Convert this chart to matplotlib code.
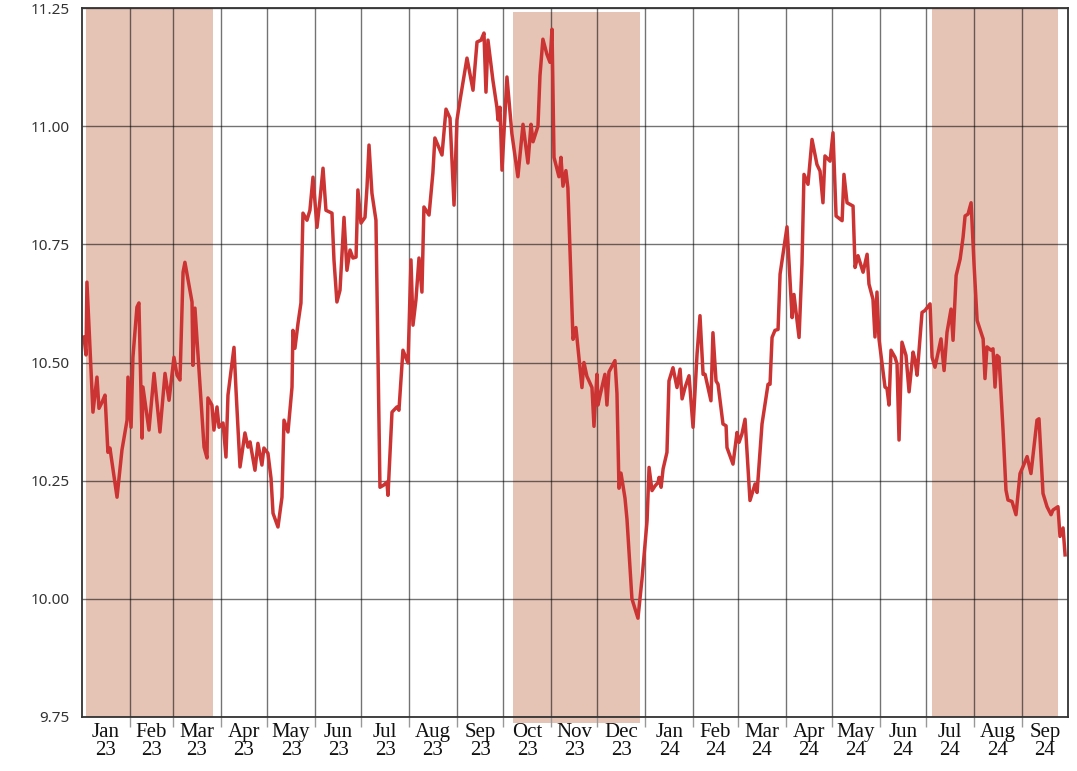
import numpy as np
import pandas as pd
import matplotlib
matplotlib.use("Agg")
import matplotlib.pyplot as plt
import matplotlib.dates as mdates
from matplotlib.ticker import FixedLocator, NullFormatter

# ---- data ----
start_date = "2023-01-01"
days_since_start = [
    1.3, 2.6, 3.2, 7.1, 9.7, 11.0, 13.0, 14.9, 16.8, 18.1, 22.7, 25.9, 29.2, 29.8,
    31.8, 33.0, 35.6, 36.9, 38.9, 39.5, 43.4, 46.7, 50.5, 53.8, 56.4, 59.6, 61.6,
    63.5, 65.5, 66.7, 71.3, 71.9, 73.2, 79.1, 81.0, 81.6, 84.2, 85.5, 87.5, 88.8,
    91.4, 93.3, 94.6, 98.5, 99.8, 102.4, 105.6, 107.6, 108.9, 112.1, 114.0, 116.6,
    117.9, 120.5, 122.5, 123.8, 127.0, 129.6, 130.9, 133.5, 136.1, 136.7, 138.0,
    140.0, 141.9, 143.2, 145.8, 147.7, 149.7, 152.3, 154.2, 156.2, 158.1, 162.0,
    163.3, 165.2, 167.2, 169.8, 171.7, 173.7, 175.6, 177.6, 178.8, 180.8, 183.4,
    184.7, 186.0, 187.9, 190.5, 193.1, 195.7, 197.6, 198.3, 200.9, 204.1, 205.4,
    208.0, 211.3, 213.2, 214.5, 216.4, 218.4, 220.3, 221.6, 224.9, 227.4, 228.7,
    233.3, 235.9, 238.5, 241.1, 243.0, 245.0, 249.5, 253.4, 256.0, 258.6, 260.5,
    261.8, 263.1, 266.3, 268.9, 269.6, 270.9, 272.2, 275.4, 278.6, 282.5, 285.8,
    289.0, 291.0, 292.3, 295.5, 296.8, 298.7, 301.3, 303.3, 304.6, 305.9, 309.1,
    310.4, 311.7, 313.6, 314.9, 318.2, 320.1, 324.0, 325.3, 327.2, 330.5, 331.8,
    333.7, 334.4, 335.7, 338.9, 340.2, 341.5, 345.4, 346.7, 348.0, 349.3, 351.9,
    353.2, 356.4, 360.3, 362.9,
    366.2, 367.5, 369.4, 371.4, 373.3, 374.0, 375.3, 376.6, 379.1, 380.4, 383.0,
    385.6, 387.6, 388.9, 390.8, 393.4, 396.0, 398.6, 400.5, 402.5, 403.8, 407.6,
    408.9, 410.9, 412.2, 415.4, 417.4, 418.0, 421.9, 424.5, 425.8, 427.7, 429.7,
    432.9, 436.2, 437.5, 440.7, 444.6, 445.9, 447.2, 449.1, 451.1, 452.4, 456.9,
    460.2, 461.4, 464.7, 466.6, 467.9, 470.5, 473.1, 476.3,
    478.3, 480.2, 481.5, 484.8, 486.7, 488.7, 492.6, 493.8, 495.8, 499.7, 501.0,
    502.9, 506.2, 508.8, 510.0, 512.6, 513.9, 515.2, 516.5, 520.4, 521.7, 523.0,
    524.3, 526.9, 528.2, 529.5, 531.4, 534.0, 536.0, 538.6, 539.9, 541.2, 544.4,
    546.3, 549.6, 550.9, 552.8, 556.7, 558.7, 560.6, 563.2, 564.5, 566.5, 569.1,
    571.0, 572.3, 574.2, 576.2, 578.1, 580.1, 584.0, 585.2, 586.5, 589.1, 590.4,
    591.7, 593.0, 594.3, 596.9, 598.8, 600.1, 602.7, 605.3, 607.9, 609.9, 612.5,
    615.0, 618.9, 620.2, 622.8, 625.4, 628.0, 629.3, 632.5, 633.8, 635.8, 637.1,
]
rate = [
    10.554, 10.516, 10.670, 10.395, 10.469, 10.403, 10.416, 10.431, 10.310, 10.319,
    10.215, 10.315, 10.378, 10.469, 10.363, 10.511, 10.617, 10.626, 10.340, 10.448,
    10.357, 10.477, 10.353, 10.477, 10.420, 10.511, 10.473, 10.463, 10.691, 10.712,
    10.628, 10.494, 10.615, 10.321, 10.298, 10.425, 10.410, 10.357, 10.406, 10.363,
    10.372, 10.300, 10.431, 10.532, 10.442, 10.279, 10.351, 10.321, 10.332, 10.272,
    10.329, 10.283, 10.319, 10.308, 10.255, 10.181, 10.152, 10.215, 10.378, 10.353,
    10.448, 10.568, 10.530, 10.583, 10.626, 10.816, 10.801, 10.822, 10.892, 10.786,
    10.843, 10.911, 10.822, 10.816, 10.717, 10.628, 10.653, 10.807, 10.695, 10.738,
    10.721, 10.723, 10.865, 10.795, 10.807, 10.871, 10.960, 10.858, 10.801, 10.236,
    10.241, 10.247, 10.219, 10.395, 10.406, 10.399, 10.526, 10.499, 10.717, 10.579,
    10.632, 10.721, 10.649, 10.829, 10.812, 10.901, 10.975, 10.939, 11.036, 11.017,
    10.833, 11.013, 11.055, 11.144, 11.076, 11.178, 11.182, 11.197, 11.072, 11.182,
    11.097, 11.040, 11.013, 11.040, 10.907, 11.104, 10.984, 10.893, 11.004, 10.922,
    11.004, 10.967, 11.000, 11.107, 11.184, 11.152, 11.135, 11.205, 10.934, 10.893,
    10.934, 10.873, 10.906, 10.869, 10.549, 10.574, 10.447, 10.500, 10.471, 10.447,
    10.365, 10.475, 10.410, 10.430, 10.475, 10.410, 10.480, 10.504, 10.434, 10.234,
    10.266, 10.213, 10.168, 10.000, 9.959, 10.041,
    10.165, 10.278, 10.229, 10.239, 10.246, 10.257, 10.236, 10.275, 10.310, 10.461,
    10.489, 10.447, 10.486, 10.423, 10.447, 10.472, 10.363, 10.518, 10.599, 10.475,
    10.475, 10.419, 10.563, 10.461, 10.454, 10.370, 10.366, 10.320, 10.285, 10.352,
    10.331, 10.349, 10.380, 10.208, 10.243, 10.225, 10.370, 10.454, 10.454, 10.553,
    10.568, 10.570, 10.687, 10.787, 10.595, 10.644, 10.553, 10.708, 10.898, 10.877,
    10.972, 10.919,
    10.905, 10.838, 10.937, 10.926, 10.986, 10.810, 10.800, 10.898, 10.838, 10.831,
    10.701, 10.726, 10.691, 10.729, 10.666, 10.634, 10.554, 10.649, 10.550, 10.448,
    10.445, 10.410, 10.526, 10.511, 10.497, 10.336, 10.543, 10.515, 10.438, 10.522,
    10.504, 10.473, 10.606, 10.610, 10.624, 10.511, 10.490, 10.550, 10.483, 10.564,
    10.613, 10.547, 10.684, 10.719, 10.765, 10.810, 10.814, 10.838, 10.708, 10.589,
    10.550, 10.466, 10.533, 10.526, 10.529, 10.448, 10.515, 10.511, 10.357, 10.230,
    10.209, 10.206, 10.178, 10.265, 10.280, 10.301, 10.265, 10.378, 10.381, 10.223,
    10.195, 10.178, 10.188, 10.195, 10.132, 10.150, 10.093,
]

# shaded periods (days since start)
shade_start_days = [2.6, 279.3, 550.9]
shade_end_days = [84.9, 361.6, 632.5]
shade_ymin = [0.0, -0.0085, 0.0]
shade_ymax = [1.0, 0.9944, 1.0]

y_ticks = [9.75, 10.00, 10.25, 10.50, 10.75, 11.00, 11.25]
x_start = "2023-01-01"
x_end = "2024-10-01"

# ---- build ----
base = pd.Timestamp(start_date)
dates = base + pd.to_timedelta(np.array(days_since_start), unit="D")

fig = plt.figure(figsize=(10.77, 7.71), dpi=100)
ax = fig.add_axes([82 / 1077, 1 - 717 / 771, (1068 - 82) / 1077, (717 - 8) / 771])

for s, e, y0, y1 in zip(shade_start_days, shade_end_days, shade_ymin, shade_ymax):
    ax.axvspan(base + pd.Timedelta(days=s), base + pd.Timedelta(days=e),
               ymin=y0, ymax=y1, color="#e5c4b6", lw=0, zorder=1, clip_on=False)

ax.plot(dates, rate, color="#cc3333", lw=2.5, zorder=3, solid_joinstyle="round")

ax.set_xlim(pd.Timestamp(x_start), pd.Timestamp(x_end))
ax.set_ylim(y_ticks[0], y_ticks[-1])

# month boundaries as major ticks (grid), mid-months as labeled minor ticks
month_starts = pd.date_range(x_start, x_end, freq="MS")
mid_months = [m + (n - m) / 2 for m, n in zip(month_starts[:-1], month_starts[1:])]
ax.xaxis.set_major_locator(FixedLocator(mdates.date2num(month_starts[1:-1])))
ax.xaxis.set_major_formatter(NullFormatter())
ax.xaxis.set_minor_locator(FixedLocator(mdates.date2num(mid_months)))
ax.set_xticklabels([m.strftime("%b\n%y") for m in month_starts[:-1]], minor=True)
ax.tick_params(axis="x", which="major", length=7, width=1, color="#999999")
ax.tick_params(axis="x", which="minor", length=0, pad=4)
for lbl in ax.get_xticklabels(minor=True):
    lbl.set_family("Liberation Serif")
    lbl.set_fontsize(15)
    lbl.set_linespacing(0.95)
    lbl.set_color("#111111")

ax.set_yticks(y_ticks)
ax.set_yticklabels([f"{v:.2f}" for v in y_ticks])
ax.tick_params(axis="y", length=0, pad=9)
for lbl in ax.get_yticklabels():
    lbl.set_family("Noto Sans")
    lbl.set_fontsize(11)
    lbl.set_color("#333333")

ax.grid(True, which="major", color="#000000", alpha=0.55, lw=1, zorder=2)
ax.set_axisbelow(False)
for sp in ax.spines.values():
    sp.set_color("#333333")
    sp.set_linewidth(1.3)
    sp.set_zorder(4)

fig.savefig("out.png", dpi=100)
